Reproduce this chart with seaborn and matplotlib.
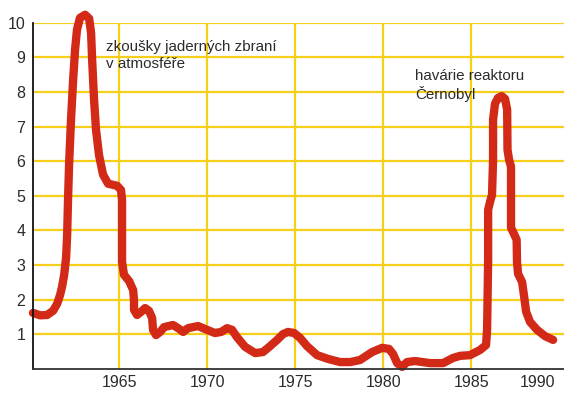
import matplotlib
matplotlib.use("Agg")
import matplotlib.pyplot as plt
import seaborn as sns
import pandas as pd

# Radioactivity trace over time (relative units)
years = [
    1960.11, 1960.51, 1960.91, 1961.25, 1961.48, 1961.65, 1961.76, 1961.88,
    1961.99, 1962.05, 1962.10, 1962.16, 1962.27, 1962.39, 1962.50, 1962.61,
    1962.78, 1963.07, 1963.30, 1963.41, 1963.47, 1963.58, 1963.69, 1963.86,
    1964.09, 1964.38, 1964.89, 1965.11, 1965.17, 1965.17, 1965.17, 1965.28,
    1965.57, 1965.80, 1965.85, 1965.85, 1966.02, 1966.25, 1966.48, 1966.70,
    1966.88, 1966.93, 1967.10, 1967.33, 1967.56, 1968.07, 1968.41, 1968.64,
    1968.92, 1969.49, 1970.00, 1970.45, 1970.80, 1971.14, 1971.42, 1971.70,
    1972.16, 1972.73, 1973.18, 1973.58, 1973.98, 1974.32, 1974.60, 1974.94,
    1975.28, 1975.68, 1976.25, 1976.88, 1977.56, 1978.13, 1978.69, 1979.38,
    1979.94, 1980.34, 1980.57, 1980.80, 1981.08, 1981.36, 1981.82, 1982.67,
    1983.41, 1983.98, 1984.38, 1984.94, 1985.51, 1985.85, 1985.91, 1985.97,
    1985.97, 1986.08, 1986.19, 1986.25, 1986.25, 1986.36, 1986.53, 1986.74,
    1986.93, 1987.05, 1987.07, 1987.16, 1987.27, 1987.27, 1987.27, 1987.44,
    1987.59, 1987.61, 1987.67, 1987.90, 1988.01, 1988.13, 1988.35, 1988.75,
    1989.20, 1989.66,
]
levels = [
    1.62, 1.55, 1.56, 1.68, 1.88, 2.14, 2.37, 2.72,
    3.21, 3.87, 4.88, 5.90, 7.20, 8.35, 9.22, 9.80,
    10.14, 10.23, 10.12, 9.71, 8.93, 7.77, 6.91, 6.18,
    5.61, 5.35, 5.29, 5.17, 4.88, 4.02, 3.09, 2.72,
    2.54, 2.28, 1.99, 1.71, 1.56, 1.65, 1.76, 1.68,
    1.47, 1.13, 0.98, 1.07, 1.21, 1.27, 1.16, 1.07,
    1.18, 1.24, 1.13, 1.04, 1.07, 1.18, 1.13, 0.92,
    0.64, 0.46, 0.49, 0.66, 0.84, 1.01, 1.07, 1.04,
    0.90, 0.66, 0.40, 0.29, 0.20, 0.20, 0.26, 0.49,
    0.61, 0.58, 0.43, 0.17, 0.06, 0.20, 0.23, 0.17,
    0.17, 0.32, 0.38, 0.40, 0.55, 0.69, 1.13, 3.15,
    4.60, 4.83, 5.03, 6.04, 7.20, 7.66, 7.83, 7.88,
    7.80, 7.49, 6.33, 6.04, 5.84, 4.88, 4.08, 3.90,
    3.73, 3.09, 2.75, 2.51, 2.11, 1.65, 1.36, 1.13,
    0.95, 0.84,
]

y_ticks = [1, 2, 3, 4, 5, 6, 7, 8, 9, 10]
x_grid_years = [1965, 1970, 1975, 1980, 1985]
x_tick_pos = [1965, 1970, 1975, 1980, 1985, 1988.75]
x_tick_labels = ["1965", "1970", "1975", "1980", "1985", "1990"]

notes = [
    (1964.26, 9.05, "zkoušky jaderných zbraní\nv atmosféře"),
    (1981.82, 8.19, "havárie reaktoru\nČernobyl"),
]

sns.set_theme(style="white")
plt.rcParams["font.family"] = ["Liberation Sans", "DejaVu Sans"]

grid_color = "#F5CF1A"
line_color = "#D32A18"
text_color = "#2b2b2b"

fig = plt.figure(figsize=(5.64, 3.93), dpi=100)
ax = fig.add_axes([33 / 564, 24 / 393, 1 - 33 / 564, (369 - 22.7) / 393])

for yv in y_ticks:
    ax.axhline(yv, color=grid_color, lw=1.6, zorder=1)
for xv in x_grid_years:
    ax.axvline(xv, color=grid_color, lw=1.6, zorder=1)

df = pd.DataFrame({"year": years, "level": levels})
sns.lineplot(data=df, x="year", y="level", sort=False, estimator=None,
             color=line_color, lw=6.0, ax=ax, zorder=3)
for ln in ax.lines[-1:]:
    ln.set_clip_on(False)
    ln.set_solid_capstyle("round")
    ln.set_solid_joinstyle("round")

ax.set_xlim(1960.11, 1990.28)
ax.set_ylim(0, 10)
ax.set_xticks(x_tick_pos)
ax.set_xticklabels(x_tick_labels)
ax.set_yticks(y_ticks)
ax.set_yticklabels([str(v) for v in y_ticks])
ax.tick_params(axis="both", length=0, labelsize=11.5, colors=text_color)
ax.tick_params(axis="x", pad=4.5)
ax.tick_params(axis="y", pad=5.5)
ax.set_xlabel("")
ax.set_ylabel("")

for side in ["top", "right"]:
    ax.spines[side].set_visible(False)
ax.spines["left"].set_color("#111111")
ax.spines["left"].set_linewidth(1.3)
ax.spines["bottom"].set_color("#333333")
ax.spines["bottom"].set_linewidth(1.3)
ax.spines["left"].set_zorder(4)
ax.spines["bottom"].set_zorder(4)

for x, y, txt in notes:
    ax.text(x, y, txt, fontsize=10.9, color=text_color, va="center",
            ha="left", linespacing=1.2, zorder=5)

fig.savefig("out.png", dpi=100)
